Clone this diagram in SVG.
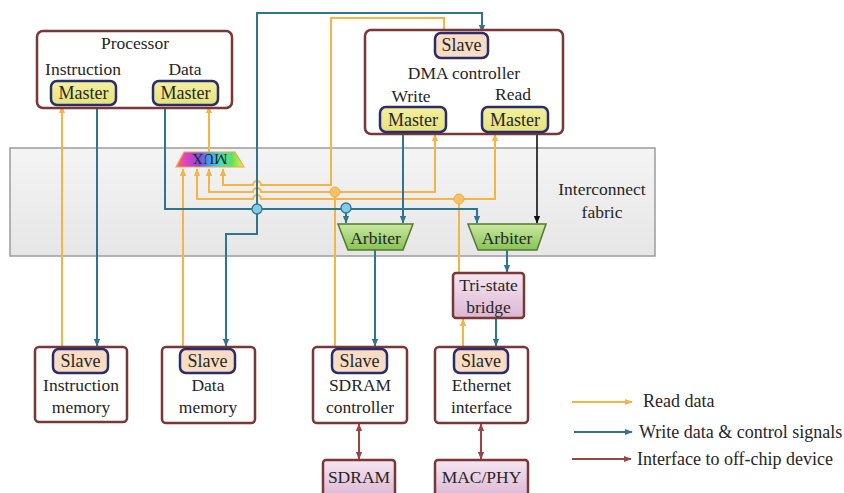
<svg xmlns="http://www.w3.org/2000/svg" width="844" height="493" viewBox="0 0 844 493" font-family="'Liberation Serif', 'DejaVu Serif', serif">
  <style>
    text { font-family: "Liberation Serif", "DejaVu Serif", serif; font-size: 17.5px; fill: #262626; text-anchor: middle; }
    .box { fill: #fff; stroke: #7b3636; stroke-width: 2.5; }
    .pink { fill: url(#gPink); stroke: #7b3636; stroke-width: 2.5; }
    .master { fill: url(#gMaster); stroke: #2a2d6c; stroke-width: 2.5; }
    .slave { fill: #f8dcc3; stroke: #2a2d6c; stroke-width: 2.5; }
    .arb { fill: url(#gArb); stroke: #56772e; stroke-width: 1.5; }
    .rd { fill: none; stroke: #f5b443; stroke-width: 2; }
    .wr { fill: none; stroke: #2f7590; stroke-width: 2; }
    .blk { fill: none; stroke: #111; stroke-width: 1.6; }
    .off { fill: none; stroke: #9a4545; stroke-width: 2; }
    .rdA { marker-end: url(#aO); }
    .wrA { marker-end: url(#aB); }
    .blkA { marker-end: url(#aK); }
    .offA { marker-end: url(#aR); marker-start: url(#aR); }
    .dotO { fill: #f6c266; stroke: #f0ad40; stroke-width: 1; }
    .dotB { fill: #83c9e8; stroke: #2f7590; stroke-width: 1.3; }
    .big { font-size: 18px; }
    .lg { text-anchor: start; font-size: 18px; }
  </style>
  <defs>
    <linearGradient id="gFabric" x1="0" y1="0" x2="0" y2="1">
      <stop offset="0" stop-color="#f4f4f4"/>
      <stop offset="1" stop-color="#e6e6e6"/>
    </linearGradient>
    <linearGradient id="gMaster" x1="0" y1="0" x2="0" y2="1">
      <stop offset="0" stop-color="#f3f0a0"/>
      <stop offset="1" stop-color="#e6e27a"/>
    </linearGradient>
    <linearGradient id="gPink" x1="0" y1="0" x2="0" y2="1">
      <stop offset="0" stop-color="#f6e6f2"/>
      <stop offset="1" stop-color="#dcb6d2"/>
    </linearGradient>
    <linearGradient id="gArb" x1="0" y1="0" x2="0" y2="1">
      <stop offset="0" stop-color="#cbe99f"/>
      <stop offset="1" stop-color="#86c357"/>
    </linearGradient>
    <linearGradient id="gMux" x1="0" y1="0" x2="1" y2="0">
      <stop offset="0" stop-color="#ff6a6a"/>
      <stop offset="0.15" stop-color="#e040c0"/>
      <stop offset="0.35" stop-color="#7a50e0"/>
      <stop offset="0.5" stop-color="#40a0f0"/>
      <stop offset="0.65" stop-color="#40e0c0"/>
      <stop offset="0.82" stop-color="#60e060"/>
      <stop offset="1" stop-color="#f0f040"/>
    </linearGradient>
    <marker id="aO" viewBox="0 0 10 10" refX="9" refY="5" markerWidth="8" markerHeight="8" markerUnits="userSpaceOnUse" orient="auto-start-reverse">
      <path d="M0,1 L10,5 L0,9 z" fill="#f5b443"/>
    </marker>
    <marker id="aB" viewBox="0 0 10 10" refX="9" refY="5" markerWidth="8" markerHeight="8" markerUnits="userSpaceOnUse" orient="auto-start-reverse">
      <path d="M0,1 L10,5 L0,9 z" fill="#2f7590"/>
    </marker>
    <marker id="aK" viewBox="0 0 10 10" refX="9" refY="5" markerWidth="8" markerHeight="8" markerUnits="userSpaceOnUse" orient="auto-start-reverse">
      <path d="M0,1 L10,5 L0,9 z" fill="#111"/>
    </marker>
    <marker id="aR" viewBox="0 0 10 10" refX="9" refY="5" markerWidth="8" markerHeight="8" markerUnits="userSpaceOnUse" orient="auto-start-reverse">
      <path d="M0,1 L10,5 L0,9 z" fill="#9a4545"/>
    </marker>
  </defs>

  <rect width="844" height="493" fill="#fff"/>

  <!-- interconnect fabric background -->
  <g id="fabric">
    <rect x="10" y="148" width="645" height="108" fill="url(#gFabric)" stroke="#9c9c9c" stroke-width="1.5"/>
    <text x="602" y="195">Interconnect</text>
    <text x="602" y="218">fabric</text>
  </g>

  <!-- connectors -->
  <g id="connectors">
    <!-- read data -->
    <path class="rd rdA" d="M62 347 V106"/>
    <path class="rd rdA" d="M183 347 V169"/>
    <path class="rd rdA" d="M209 152 V106"/>
    <path class="rd rdA" d="M444 33 V18 H331 V185 H261 A4 4 0 0 0 253 185 H223 V169"/>
    <path class="rd" d="M335 347 V192"/>
    <path class="rd rdA" d="M335 192 H261 A4 4 0 0 0 253 192 H209 V169"/>
    <path class="rd rdA" d="M335 192 H435 V134"/>
    <path class="rd rdA" d="M463 347 V319"/>
    <path class="rd" d="M459 273 V199"/>
    <path class="rd rdA" d="M459 199 H261 A4 4 0 0 0 253 199 H197 V169"/>
    <path class="rd rdA" d="M459 199 H495 V134"/>

    <!-- write data & control -->
    <path class="wr wrA" d="M97 106 V346"/>
    <path class="wr wrA" d="M165 106 V209 H477 V223"/>
    <path class="wr wrA" d="M257 209 V13 H482 V32"/>
    <path class="wr wrA" d="M257 209 V234 H226 V346"/>
    <path class="wr wrA" d="M346 209 V223"/>
    <path class="wr wrA" d="M403 133 V223"/>
    <path class="wr wrA" d="M375 250 V346"/>
    <path class="wr wrA" d="M507 250 V272"/>
    <path class="wr wrA" d="M496 318 V346"/>

    <path class="blk blkA" d="M537 133 V223"/>

    <!-- off-chip interfaces -->
    <path class="off offA" d="M359 424 V459"/>
    <path class="off offA" d="M481 424 V459"/>

    <circle class="dotO" cx="335" cy="192" r="5"/>
    <circle class="dotO" cx="459" cy="199" r="5"/>
    <circle class="dotB" cx="257" cy="209" r="5"/>
    <circle class="dotB" cx="346" cy="208" r="5"/>
  </g>

  <!-- processor -->
  <g id="processor">
    <rect class="box" x="37" y="31" width="195" height="77" rx="6"/>
    <text x="135" y="49">Processor</text>
    <text x="83" y="75">Instruction</text>
    <text x="185" y="75">Data</text>
    <rect class="master" x="51" y="81" width="65" height="24" rx="6"/>
    <text class="big" x="83.5" y="99">Master</text>
    <rect class="master" x="153" y="81" width="65" height="24" rx="6"/>
    <text class="big" x="185.5" y="99">Master</text>
  </g>

  <!-- DMA controller -->
  <g id="dma">
    <rect class="box" x="365" y="30" width="198" height="104" rx="6"/>
    <rect class="slave" x="435" y="33" width="53" height="25" rx="6"/>
    <text class="big" x="461.5" y="51">Slave</text>
    <text x="464" y="79">DMA controller</text>
    <text x="411" y="102">Write</text>
    <text x="513" y="100">Read</text>
    <rect class="master" x="380" y="107" width="66" height="25" rx="6"/>
    <text class="big" x="413" y="126">Master</text>
    <rect class="master" x="482" y="107" width="66" height="25" rx="6"/>
    <text class="big" x="515" y="126">Master</text>
  </g>

  <!-- multiplexer -->
  <g id="mux">
    <polygon points="184,152 235,152 244,167 176,167" fill="url(#gMux)" stroke="#f0a848" stroke-width="1.2"/>
    <text transform="translate(210,154) rotate(180)" style="font-size:15px">MUX</text>
  </g>

  <!-- arbiters -->
  <g id="arbiter1">
    <polygon class="arb" points="338,224 413,224 403,250 348,250"/>
    <text x="375.5" y="244">Arbiter</text>
  </g>
  <g id="arbiter2">
    <polygon class="arb" points="468,224 546,224 537,250 478,250"/>
    <text x="507" y="244">Arbiter</text>
  </g>

  <!-- tri-state bridge -->
  <g id="bridge">
    <rect class="pink" x="453" y="273" width="71" height="45" rx="3"/>
    <text x="488.5" y="291">Tri-state</text>
    <text x="488.5" y="313">bridge</text>
  </g>

  <!-- slaves on the bus -->
  <g id="imem">
    <rect class="box" x="35" y="347" width="92" height="75" rx="4"/>
    <rect class="slave" x="53" y="349" width="55" height="24" rx="6"/>
    <text class="big" x="80.5" y="367">Slave</text>
    <text x="81" y="391">Instruction</text>
    <text x="81" y="413">memory</text>
  </g>
  <g id="dmem">
    <rect class="box" x="162" y="347" width="93" height="76" rx="4"/>
    <rect class="slave" x="180" y="349" width="55" height="24" rx="6"/>
    <text class="big" x="207.5" y="367">Slave</text>
    <text x="208" y="391">Data</text>
    <text x="208" y="413">memory</text>
  </g>
  <g id="sdramctl">
    <rect class="box" x="313" y="347" width="94" height="76" rx="4"/>
    <rect class="slave" x="332" y="349" width="55" height="24" rx="6"/>
    <text class="big" x="359.5" y="367">Slave</text>
    <text x="360" y="391">SDRAM</text>
    <text x="360" y="413">controller</text>
  </g>
  <g id="ethernet">
    <rect class="box" x="435" y="347" width="93" height="76" rx="4"/>
    <rect class="slave" x="454" y="349" width="54" height="24" rx="6"/>
    <text class="big" x="481" y="367">Slave</text>
    <text x="481.5" y="391">Ethernet</text>
    <text x="481.5" y="413">interface</text>
  </g>

  <!-- off-chip devices -->
  <g id="sdram">
    <rect class="pink" x="323" y="460" width="72" height="38" rx="3"/>
    <text x="359" y="483">SDRAM</text>
  </g>
  <g id="macphy">
    <rect class="pink" x="435" y="460" width="93" height="38" rx="3"/>
    <text x="481.5" y="483">MAC/PHY</text>
  </g>

  <!-- legend -->
  <g id="legend">
    <path class="rd rdA" d="M572 402 H632"/>
    <text class="lg" x="643" y="407">Read data</text>
    <path class="wr wrA" d="M574 432 H632"/>
    <text class="lg" x="639" y="438">Write data &amp; control signals</text>
    <path class="off" d="M572 459 H631" marker-end="url(#aR)"/>
    <text class="lg" x="637" y="465">Interface to off-chip device</text>
  </g>
</svg>
